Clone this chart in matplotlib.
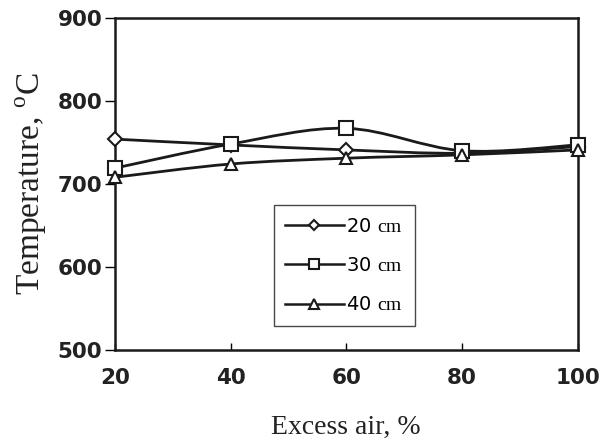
import matplotlib
matplotlib.use("Agg")
import matplotlib.pyplot as plt
import numpy as np
from matplotlib.path import Path
from matplotlib.patches import PathPatch
from matplotlib.lines import Line2D

plt.rcParams['mathtext.fontset'] = 'custom'
plt.rcParams['mathtext.rm'] = 'Liberation Serif'

excess_air = [20, 40, 60, 80, 100]
temp_20cm = [754, 747, 741, 737, 745]
temp_30cm = [719, 748, 767, 740, 747]
temp_40cm = [708, 724, 731, 735, 741]
labels = ['20 $\\mathrm{cm}$', '30 $\\mathrm{cm}$', '40 $\\mathrm{cm}$']


def smooth_path(x, y):
    # bezier through the points, like the spreadsheet "smoothed line"
    p = np.column_stack([x, y]).astype(float)
    pts = np.vstack([p[0], p, p[-1]])
    verts = [tuple(p[0])]
    codes = [Path.MOVETO]
    for i in range(1, len(pts) - 2):
        c1 = pts[i] + (pts[i + 1] - pts[i - 1]) / 6
        c2 = pts[i + 1] - (pts[i + 2] - pts[i]) / 6
        verts += [tuple(c1), tuple(c2), tuple(pts[i + 1])]
        codes += [Path.CURVE4] * 3
    return Path(verts, codes)


fig = plt.figure(figsize=(6.07, 4.47), dpi=100)
ax = fig.add_axes([0.189, 0.217, 0.763, 0.743])

series = [temp_20cm, temp_30cm, temp_40cm]
markers = ['D', 's', '^']
msizes = [7, 9.5, 9]
handles = []
for y, m, ms, lab in zip(series, markers, msizes, labels):
    ax.add_patch(PathPatch(smooth_path(excess_air, y), fill=False,
                           edgecolor='#1a1a1a', lw=2, zorder=2))
    ax.plot(excess_air, y, ls='none', marker=m, ms=ms, mfc='white',
            mec='#1a1a1a', mew=1.5, zorder=3, clip_on=False)
    handles.append(Line2D([], [], color='#1a1a1a', lw=1.8, marker=m, ms=ms - 2,
                          mfc='white', mec='#1a1a1a', mew=1.5, label=lab))

ax.set_xlim(20, 100)
ax.set_ylim(500, 900)
ax.set_xticks([20, 40, 60, 80, 100])
ax.set_yticks([500, 600, 700, 800, 900])

for s in ax.spines.values():
    s.set_linewidth(1.8)
    s.set_color('#1a1a1a')

ax.tick_params(axis='y', direction='out', length=7, width=1, pad=2,
               labelsize=15.5)
ax.tick_params(axis='x', direction='in', length=5, width=1, pad=13,
               labelsize=15.5)
for t in ax.get_xticklabels() + ax.get_yticklabels():
    t.set_fontweight('bold')
    t.set_color('#222222')

ax.set_xlabel('Excess air, %', family='Liberation Serif', fontsize=20,
              labelpad=19, color='#222222')
ax.set_ylabel('Temperature, $^{\\rm o}$C', family='Liberation Serif',
              fontsize=24, labelpad=6, color='#222222')

leg = ax.legend(handles=handles, loc='upper left',
                bbox_to_anchor=(0.343, 0.437), borderaxespad=0,
                frameon=True, fancybox=False,
                edgecolor='#1a1a1a', fontsize=14, handlelength=3.0,
                handletextpad=0.15, labelspacing=1.05, borderpad=0.6)
leg.get_frame().set_linewidth(1)

fig.savefig('out.png', dpi=100)
